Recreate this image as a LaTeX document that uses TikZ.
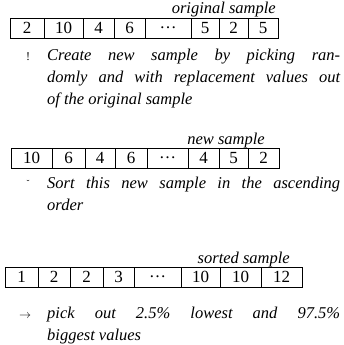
\documentclass[tikz,border=0pt]{standalone}
\usepackage{fontspec}
\setmainfont{Liberation Serif}
\begin{document}
\begin{tikzpicture}[x=1pt, y=-1pt,
  cell/.style={draw, line width=0.9pt, inner sep=0pt, outer sep=0pt, minimum height=20pt, font=\fontsize{17}{19}\selectfont},
  lbl/.style={font=\fontsize{16.5}{19}\selectfont\itshape, inner sep=0pt},
  txt/.style={font=\fontsize{16.5}{19}\selectfont\itshape, inner sep=0pt, anchor=base west},
  mk/.style={font=\fontsize{12}{14}\selectfont, inner sep=0pt, anchor=base}]
\useasboundingbox (0,0) rectangle (343,345);
% row 1
\foreach \l/\r/\t [count=\i] in {10/44/2,44/83/10,83/114/4,114/145/6,145/191/\dots,191/219/5,219/248/2,248/278/5}
  \node[cell, minimum width={(\r-\l)*1pt}] (a\i) at ({(\l+\r)/2}, 28) {\t};
\node[lbl, anchor=base east] (la) at ([xshift=-2pt, yshift=4pt]a8.north east) {original sample};
\node[mk] (ma) at (28,60) {!};
\node[txt] (ta1) at (47,60) {\makebox[293pt][s]{Create new sample by picking ran-}};
\node[txt] (ta2) at (47,82) {\makebox[293pt][s]{domly and with replacement values out}};
\node[txt] (ta3) at (47,104) {of the original sample};
% row 2
\foreach \l/\r/\t [count=\i] in {11/52/10,52/85/6,85/115/4,115/147/6,147/188/\dots,188/219/4,219/248/5,248/279/2}
  \node[cell, minimum width={(\r-\l)*1pt}] (b\i) at ({(\l+\r)/2}, 158) {\t};
\node[lbl, anchor=base east] (lb) at ([xshift=-14pt, yshift=4pt]b8.north east) {new sample};
\node[mk] (mb) at (28,186) {\fontsize{9}{10}\selectfont ˘};
\node[txt] (tb1) at (47,188) {\makebox[293pt][s]{Sort this new sample in the ascending}};
\node[txt] (tb2) at (47,210) {order};
% row 3
\foreach \l/\r/\t [count=\i] in {5/38/1,38/70/2,70/103/2,103/134/3,134/181/\dots,181/220/10,220/261/10,261/302/12}
  \node[cell, minimum width={(\r-\l)*1pt}] (c\i) at ({(\l+\r)/2}, 277) {\t};
\node[lbl, anchor=base east] (lc) at ([xshift=-12pt, yshift=4pt]c8.north east) {sorted sample};
\node[mk] (mc) at (25,318) {$\rightarrow$};
\node[txt] (tc1) at (47,318) {\makebox[293pt][s]{pick out 2.5\% lowest and 97.5\%}};
\node[txt] (tc2) at (47,340) {biggest values};
\end{tikzpicture}
\end{document}
